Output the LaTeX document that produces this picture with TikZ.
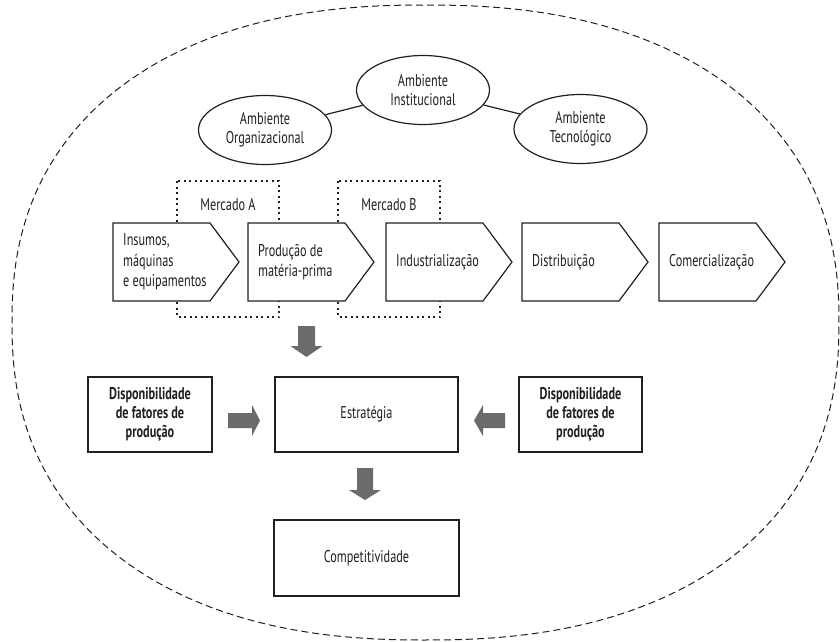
\documentclass[tikz,border=0pt]{standalone}
\usepackage{fontspec}
\setmainfont{PT Sans}[FakeStretch=0.72]
\usetikzlibrary{shapes.geometric}
\definecolor{txt}{HTML}{231F20}
\definecolor{ln}{HTML}{231F20}
\definecolor{garrowc}{HTML}{6B6B6B}
\newcommand\chevronbox[3]{%
  \draw[chevline] (#2,223) -- ++(97,0) -- ++(29,39) -- ++(-29,39) -- ++(-97,0) -- cycle;
  \node[chevtext, anchor=west] (#1) at (#2+10,262) {#3};
}
\newcommand\blockdown[5]{% x, ytop, ybase, ytip, halfshaft
  \fill[garrow] (#1-#5,#2) -- (#1+#5,#2) -- (#1+#5,#3) -- (#1+16,#3) -- (#1,#4) -- (#1-16,#3) -- (#1-#5,#3) -- cycle;
}
\begin{document}
\begin{tikzpicture}[x=1pt,y=-1pt,
  every node/.style={font=\fontsize{17}{19}\selectfont, text=txt},
  amb/.style={ellipse, draw=ln, line width=1.2pt, fill=white, minimum width=133pt, minimum height=69pt, align=center, inner sep=0pt},
  chevline/.style={draw=ln, line width=1.2pt, fill=white, line join=miter},
  chevtext/.style={align=left, inner sep=0pt, font=\fontsize{17}{20.5}\selectfont},
  mkt/.style={draw=ln, line width=1.3pt, dash pattern=on 2pt off 3.5pt},
  box/.style={draw=ln, line width=1.2pt, align=center, inner sep=0pt},
  garrow/.style={fill=garrowc},
  outer/.style={draw=ln, line width=1pt, dash pattern=on 7pt off 4pt},
  link/.style={draw=ln, line width=1.2pt}
]
\useasboundingbox (0,0) rectangle (840,641);
\fill[white] (0,0) rectangle (840,641);

% outer dashed (super)ellipse
\draw[outer] plot[domain=0.5:360.5, samples=145, smooth]
  ({425.5+413.5*cos(\x)*abs(cos(\x))^(-0.1304)}, {322.5+317.5*sin(\x)*abs(sin(\x))^(-0.1304)}) -- cycle;

% environment ellipses
\node[amb] (org) at (265,130) {Ambiente\\Organizacional};
\node[amb] (inst) at (423,90) {Ambiente\\Institucional};
\node[amb] (tec) at (580.5,129) {Ambiente\\Tecnológico};
\draw[link] (org) -- (inst);
\draw[link] (inst) -- (tec);

% market boxes (dotted)
\draw[mkt] (177,181) rectangle (279,317);
\draw[mkt] (338,181) rectangle (440,317);
\node (mA) at (228,205) {Mercado A};
\node (mB) at (389,205) {Mercado B};

% chain chevrons
\chevronbox{c1}{113}{Insumos,\\máquinas\\e equipamentos}
\chevronbox{c2}{248}{Produção de\\matéria-prima}
\chevronbox{c3}{386}{Industrialização}
\chevronbox{c4}{522}{Distribuição}
\chevronbox{c5}{659}{Comercialização}

% lower boxes
\node[box, minimum width=124pt, minimum height=75pt] (dL) at (150,414.5) {\bfseries Disponibilidade\\\bfseries de fatores de\\\bfseries produção};
\node[box, minimum width=183pt, minimum height=75pt] (est) at (366.5,414.5) {Estratégia};
\node[box, minimum width=123pt, minimum height=75pt] (dR) at (580.5,414.5) {\bfseries Disponibilidade\\\bfseries de fatores de\\\bfseries produção};
\node[box, minimum width=185pt, minimum height=76pt] (comp) at (366.5,558) {Competitividade};

% block arrows
\blockdown{306.5}{326}{346}{357}{8.5}
\blockdown{365}{468}{490}{500}{8}
\fill[garrow] (228,413) -- (252,413) -- (252,405) -- (260,420.5) -- (252,436) -- (252,428) -- (228,428) -- cycle;
\fill[garrow] (505,413) -- (483,413) -- (483,405) -- (474,420.5) -- (483,436) -- (483,428) -- (505,428) -- cycle;
\end{tikzpicture}
\end{document}
